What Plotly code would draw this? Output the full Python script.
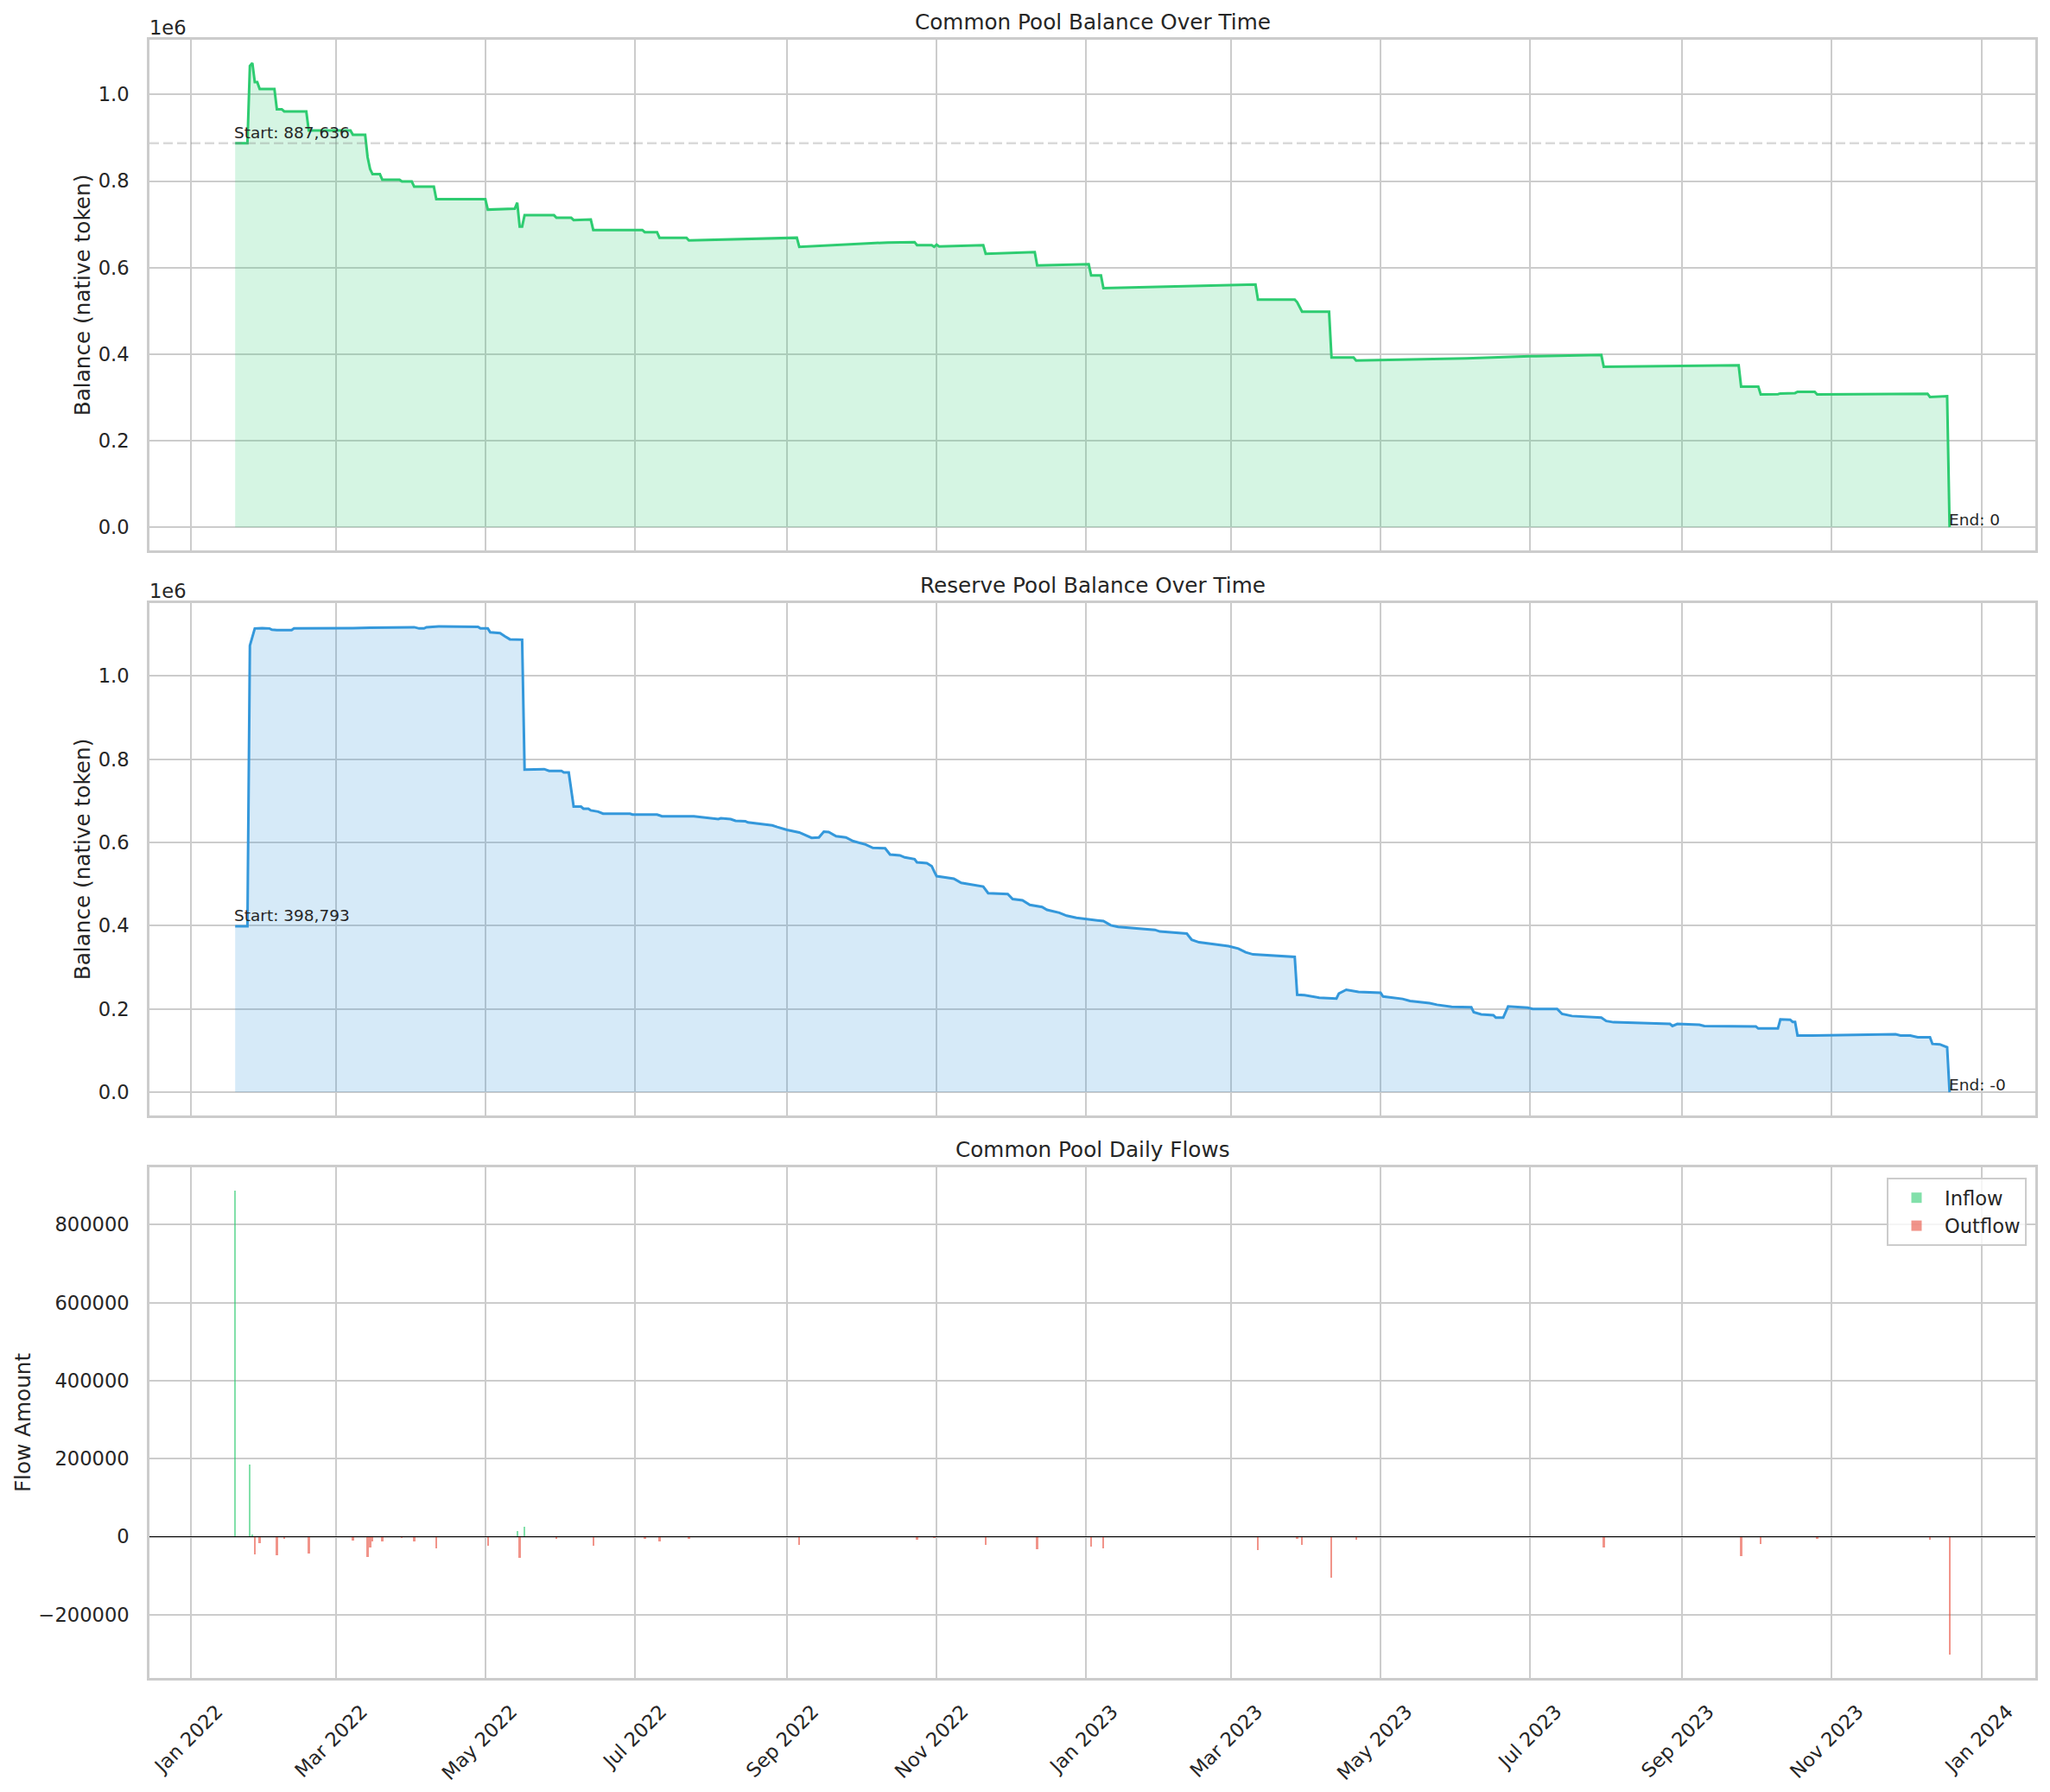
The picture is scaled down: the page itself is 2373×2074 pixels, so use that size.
import pandas as pd
import plotly.graph_objects as go
from plotly.subplots import make_subplots

# ---------------- data ----------------
common_dates = [
    "2022-01-19", "2022-01-24", "2022-01-25", "2022-01-26", "2022-01-27", "2022-01-28", "2022-01-29",
    "2022-02-04", "2022-02-05", "2022-02-07", "2022-02-08", "2022-02-17", "2022-02-18",
    "2022-03-07", "2022-03-08", "2022-03-13", "2022-03-14", "2022-03-15", "2022-03-16",
    "2022-03-19", "2022-03-20", "2022-03-27", "2022-03-28", "2022-04-01", "2022-04-02",
    "2022-04-10", "2022-04-11", "2022-05-01", "2022-05-02", "2022-05-13", "2022-05-14",
    "2022-05-15", "2022-05-16", "2022-05-17", "2022-05-29", "2022-05-30", "2022-06-05",
    "2022-06-06", "2022-06-13", "2022-06-14", "2022-07-04", "2022-07-05", "2022-07-10",
    "2022-07-11", "2022-07-22", "2022-07-23", "2022-09-05", "2022-09-06", "2022-10-12",
    "2022-10-23", "2022-10-24", "2022-10-30", "2022-10-31", "2022-11-01", "2022-11-02",
    "2022-11-20", "2022-11-21", "2022-12-11", "2022-12-12", "2023-01-02", "2023-01-03",
    "2023-01-07", "2023-01-08", "2023-02-13", "2023-03-11", "2023-03-12", "2023-03-27",
    "2023-03-28", "2023-03-30", "2023-04-10", "2023-04-11", "2023-04-20", "2023-04-21",
    "2023-06-05", "2023-07-01", "2023-07-30", "2023-07-31", "2023-09-24", "2023-09-25",
    "2023-10-02", "2023-10-03", "2023-10-10", "2023-10-11", "2023-10-17", "2023-10-18",
    "2023-10-25", "2023-10-26", "2023-12-10", "2023-12-11", "2023-12-18", "2023-12-19",
]
common_balance = [
    887636, 887636, 1066000, 1073000, 1029000, 1029000, 1013000,
    1013000, 966000, 966000, 961000, 961000, 917000,
    917000, 907000, 907000, 855000, 828000, 816000,
    816000, 803000, 803000, 799000, 799000, 787000,
    787000, 758000, 758000, 734000, 736000, 750000,
    695000, 695000, 721000, 721000, 715000, 715000,
    710000, 711000, 687000, 687000, 682000, 682000,
    669000, 669000, 663000, 669000, 648000, 658000,
    659000, 652000, 652000, 648000, 653000, 649000,
    652000, 632000, 636000, 605000, 608000, 582000,
    582000, 552500, 557000, 561000, 526000, 526000,
    520000, 498000, 498000, 392000, 392000, 385400,
    390000, 395000, 398000, 370600, 374000, 325000,
    325000, 307000, 307500, 309000, 310000, 313000,
    313000, 307000, 308500, 301000, 302700, 0,
]

reserve_dates = [
    "2022-01-19", "2022-01-24", "2022-01-25", "2022-01-27", "2022-01-30", "2022-02-02", "2022-02-03",
    "2022-02-05", "2022-02-11", "2022-02-12", "2022-03-08", "2022-03-15", "2022-04-02", "2022-04-04",
    "2022-04-06", "2022-04-07", "2022-04-12", "2022-04-28", "2022-04-29", "2022-05-02", "2022-05-03",
    "2022-05-07", "2022-05-09", "2022-05-11", "2022-05-16", "2022-05-17", "2022-05-25", "2022-05-27",
    "2022-06-01", "2022-06-02", "2022-06-04", "2022-06-06", "2022-06-09", "2022-06-10", "2022-06-12",
    "2022-06-13", "2022-06-16", "2022-06-18", "2022-06-29", "2022-06-30", "2022-07-10", "2022-07-12",
    "2022-07-25", "2022-07-28", "2022-08-03", "2022-08-04", "2022-08-05", "2022-08-09", "2022-08-11",
    "2022-08-15", "2022-08-16", "2022-08-22", "2022-08-26", "2022-08-28", "2022-09-01", "2022-09-06",
    "2022-09-09", "2022-09-11", "2022-09-14", "2022-09-16", "2022-09-18", "2022-09-21", "2022-09-25",
    "2022-09-28", "2022-10-03", "2022-10-06", "2022-10-11", "2022-10-13", "2022-10-17", "2022-10-19",
    "2022-10-23", "2022-10-24", "2022-10-28", "2022-10-30", "2022-10-31", "2022-11-01", "2022-11-08",
    "2022-11-11", "2022-11-20", "2022-11-22", "2022-11-30", "2022-12-02", "2022-12-06", "2022-12-09",
    "2022-12-14", "2022-12-16", "2022-12-21", "2022-12-24", "2022-12-28", "2023-01-01", "2023-01-08",
    "2023-01-11", "2023-01-14", "2023-01-29", "2023-01-31", "2023-02-11", "2023-02-13", "2023-02-16",
    "2023-02-22", "2023-02-28", "2023-03-04", "2023-03-07", "2023-03-10", "2023-03-27", "2023-03-28",
    "2023-03-31", "2023-04-06", "2023-04-13", "2023-04-14", "2023-04-17", "2023-04-22", "2023-05-01",
    "2023-05-02", "2023-05-10", "2023-05-13", "2023-05-21", "2023-05-24", "2023-05-30", "2023-06-07",
    "2023-06-08", "2023-06-11", "2023-06-16", "2023-06-17", "2023-06-20", "2023-06-22", "2023-06-30",
    "2023-07-02", "2023-07-12", "2023-07-14", "2023-07-18", "2023-07-30", "2023-08-01", "2023-08-04",
    "2023-08-15", "2023-08-27", "2023-08-28", "2023-08-30", "2023-09-08", "2023-09-10", "2023-10-01",
    "2023-10-02", "2023-10-10", "2023-10-11", "2023-10-15", "2023-10-16", "2023-10-17", "2023-10-18",
    "2023-10-24", "2023-11-08", "2023-11-27", "2023-11-29", "2023-12-03", "2023-12-06", "2023-12-11",
    "2023-12-12", "2023-12-15", "2023-12-18", "2023-12-19",
]
reserve_balance = [
    398793, 398793, 1073000, 1114000, 1115000, 1114000, 1111000,
    1110000, 1110000, 1114000, 1115000, 1116000, 1117000, 1114000,
    1114000, 1117000, 1119000, 1118000, 1114000, 1114000, 1105000,
    1103000, 1095000, 1088000, 1087000, 775000, 776000, 772000,
    772000, 768000, 768000, 686000, 686000, 681000, 681000,
    677000, 674000, 669000, 669000, 667000, 667000, 663000,
    663000, 661000, 658000, 656000, 658000, 656000, 652000,
    651000, 648000, 643000, 641000, 637000, 630000, 624000,
    617000, 611000, 612000, 626000, 625000, 615000, 612000,
    603000, 595000, 587000, 586000, 571000, 569000, 564000,
    560000, 552000, 550000, 543000, 530000, 519000, 513000,
    503000, 494000, 478000, 476000, 464000, 461000, 450000,
    445000, 438000, 431000, 424000, 419000, 416000, 411000,
    401000, 397000, 390000, 386000, 381000, 366000, 360000,
    355000, 351000, 345000, 336000, 331000, 325000, 234000,
    233000, 227000, 225000, 237000, 246000, 241000, 239000,
    230000, 224000, 219000, 214000, 210000, 205000, 204000,
    192000, 187000, 185000, 179000, 179000, 206000, 203000,
    200000, 200000, 188000, 183000, 179000, 171000, 168000,
    166000, 164000, 159000, 164000, 162000, 159000, 158000,
    153000, 153000, 175000, 174000, 169000, 169000, 136000,
    136000, 138000, 139000, 136000, 136000, 132000, 132000,
    116000, 115000, 108000, -0.2,
]

inflow_dates = ["2022-01-19", "2022-01-25", "2022-01-26", "2022-05-14", "2022-05-17"]
inflow_amounts = [887636, 185000, 6000, 14000, 26000]

outflow_dates = [
    "2022-01-27", "2022-01-29", "2022-02-05", "2022-02-08", "2022-02-18", "2022-03-08",
    "2022-03-14", "2022-03-15", "2022-03-16", "2022-03-20", "2022-03-28", "2022-04-02",
    "2022-04-11", "2022-05-02", "2022-05-15", "2022-05-30", "2022-06-14", "2022-07-05",
    "2022-07-11", "2022-07-23", "2022-09-06", "2022-10-24", "2022-10-31", "2022-11-21",
    "2022-12-12", "2023-01-03", "2023-01-08", "2023-03-12", "2023-03-28", "2023-03-30",
    "2023-04-11", "2023-04-21", "2023-07-31", "2023-09-25", "2023-10-03", "2023-10-26",
    "2023-12-11", "2023-12-19",
]
outflow_amounts = [
    -45000, -16000, -47000, -5000, -44000, -10000,
    -52000, -27000, -12000, -13000, -4000, -12000,
    -29000, -24000, -55000, -6000, -24000, -5000,
    -13000, -6000, -21000, -7000, -4000, -20000,
    -31000, -26000, -30000, -35000, -6000, -22000,
    -106000, -7000, -27000, -49000, -18000, -6000,
    -7500, -302700,
]

tick_dates = ["2022-01-01", "2022-03-01", "2022-05-01", "2022-07-01", "2022-09-01", "2022-11-01",
              "2023-01-01", "2023-03-01", "2023-05-01", "2023-07-01", "2023-09-01", "2023-11-01",
              "2024-01-01"]
tick_labels = ["Jan 2022", "Mar 2022", "May 2022", "Jul 2022", "Sep 2022", "Nov 2022",
               "Jan 2023", "Mar 2023", "May 2023", "Jul 2023", "Sep 2023", "Nov 2023",
               "Jan 2024"]
balance_tickvals = [0, 200000, 400000, 600000, 800000, 1000000]
balance_ticktext = ["0.0", "0.2", "0.4", "0.6", "0.8", "1.0"]
flow_tickvals = [-200000, 0, 200000, 400000, 600000, 800000]
flow_ticktext = ["\u2212200000", "0", "200000", "400000", "600000", "800000"]

# ---------------- style ----------------
FONT = "DejaVu Sans"
TXT = "#262626"
GRID = "#cccccc"
GREEN = "#2ecc71"
BLUE = "#3498db"
OFF = 8                      # page body margin of the html page
W, H = 2373 - OFF, 2074 - OFF
ML, MR, MT, MB = 173 - OFF, 17, 46 - OFF, 132

fig = make_subplots(rows=3, cols=1, shared_xaxes=True)

fig.add_trace(go.Scatter(x=common_dates, y=common_balance, mode="lines",
                         line=dict(color=GREEN, width=3), fill="tozeroy",
                         fillcolor="rgba(46,204,113,0.2)", showlegend=False), row=1, col=1)
fig.add_trace(go.Scatter(x=reserve_dates, y=reserve_balance, mode="lines",
                         line=dict(color=BLUE, width=3), fill="tozeroy",
                         fillcolor="rgba(52,152,219,0.2)", showlegend=False), row=2, col=1)

bar_w = 0.8 * 86400000
fig.add_trace(go.Bar(x=inflow_dates, y=inflow_amounts, width=[bar_w] * len(inflow_dates),
                     marker=dict(color="rgba(46,204,113,0.6)", line=dict(width=0)),
                     name="Inflow"), row=3, col=1)
fig.add_trace(go.Bar(x=outflow_dates, y=outflow_amounts, width=[bar_w] * len(outflow_dates),
                     marker=dict(color="rgba(231,76,60,0.6)", line=dict(width=0)),
                     name="Outflow"), row=3, col=1)

# reference lines
fig.add_hline(y=common_balance[0], line=dict(color="rgba(128,128,128,0.3)", width=2.6, dash="11px,5px"),
              row=1, col=1)
fig.add_hline(y=0, line=dict(color="black", width=1.2), row=3, col=1)

# x range (5% padding as in the source)
d0 = pd.Timestamp(common_dates[0]); d1 = pd.Timestamp(common_dates[-1])
pad = (d1 - d0) * 0.05
xr = [(d0 - pad).isoformat(), (d1 + pad).isoformat()]

def yrange(vals):
    lo, hi = min(min(vals), 0), max(vals)
    p = 0.05 * (hi - lo)
    return [lo - p, hi + p]

tickfont = dict(family=FONT, size=22.6, color=TXT)
common_axis = dict(showline=True, linecolor=GRID, linewidth=2.6, mirror=True,
                   showgrid=True, gridcolor=GRID, gridwidth=2, zeroline=False,
                   ticks="", tickfont=tickfont, automargin=False)

for i in (1, 2, 3):
    fig.update_xaxes(range=xr, tickvals=tick_dates, ticktext=tick_labels,
                     showticklabels=(i == 3), row=i, col=1, **common_axis)

fig.update_xaxes(tickangle=-45, ticklabelshift=30, ticklabelstandoff=14, row=3, col=1)

ytitle_font = dict(family=FONT, size=24.7, color=TXT)
fig.update_yaxes(range=yrange(common_balance), tickvals=balance_tickvals, ticktext=balance_ticktext,
                 title=dict(text="Balance (native token)", font=ytitle_font, standoff=3),
                 ticklabelstandoff=16, row=1, col=1, **common_axis)
fig.update_yaxes(range=yrange(reserve_balance), tickvals=balance_tickvals, ticktext=balance_ticktext,
                 title=dict(text="Balance (native token)", font=ytitle_font, standoff=3),
                 ticklabelstandoff=16, row=2, col=1, **common_axis)
fig.update_yaxes(range=yrange(inflow_amounts + outflow_amounts), tickvals=flow_tickvals,
                 ticktext=flow_ticktext,
                 title=dict(text="Flow Amount", font=ytitle_font, standoff=2),
                 ticklabelstandoff=16, row=3, col=1, **common_axis)

PLOT_TOP = OFF + MT
PLOT_BOT = OFF + H - MB
ph = PLOT_BOT - PLOT_TOP
def frac_from_top(px):
    return (PLOT_BOT - px) / ph

fig.update_layout(
    yaxis=dict(domain=[frac_from_top(637), 1.0]),
    yaxis2=dict(domain=[frac_from_top(1291), frac_from_top(698)]),
    yaxis3=dict(domain=[0.0, frac_from_top(1351)]),
)

annotations = []
titles = ["Common Pool Balance Over Time", "Reserve Pool Balance Over Time", "Common Pool Daily Flows"]
yrefs = ["y", "y2", "y3"]
for t, yr in zip(titles, yrefs):
    annotations.append(dict(text=t, xref="x domain", yref=yr + " domain", x=0.5, y=1,
                            xanchor="center", yanchor="bottom", yshift=4, showarrow=False,
                            font=dict(family=FONT, size=24.7, color=TXT)))
for yr in ("y", "y2"):
    annotations.append(dict(text="1e6", xref="x domain", yref=yr + " domain", x=0, y=1,
                            xanchor="left", yanchor="bottom", yshift=-1, xshift=-2, showarrow=False,
                            font=dict(family=FONT, size=22.6, color=TXT)))

afont = dict(family=FONT, size=18.5, color=TXT)
for dates, vals, yr in ((common_dates, common_balance, "y"), (reserve_dates, reserve_balance, "y2")):
    annotations.append(dict(text=f"Start: {vals[0]:,.0f}", x=dates[0], y=vals[0], xref="x", yref=yr,
                            xanchor="left", yanchor="bottom", xshift=-3, yshift=0, showarrow=False, font=afont))
    annotations.append(dict(text=f"End: {vals[-1]:,.0f}", x=dates[-1], y=vals[-1], xref="x", yref=yr,
                            xanchor="left", yanchor="bottom", xshift=-3, yshift=-4, showarrow=False, font=afont))

plot_left = OFF + ML
plot_right = OFF + W - MR
fig.update_layout(
    width=W, height=H,
    margin=dict(l=ML, r=MR, t=MT, b=MB),
    paper_bgcolor="white", plot_bgcolor="white",
    font=dict(family=FONT, color=TXT),
    barmode="overlay", bargap=0,
    annotations=annotations,
    legend=dict(x=(2346 - plot_left) / (plot_right - plot_left), y=frac_from_top(1363),
                xanchor="right", yanchor="top", itemwidth=55,
                bgcolor="rgba(255,255,255,0.8)", bordercolor=GRID, borderwidth=2,
                font=dict(family=FONT, size=22.6, color=TXT), tracegroupgap=2),
    showlegend=True,
)

fig.write_html("out.html")
